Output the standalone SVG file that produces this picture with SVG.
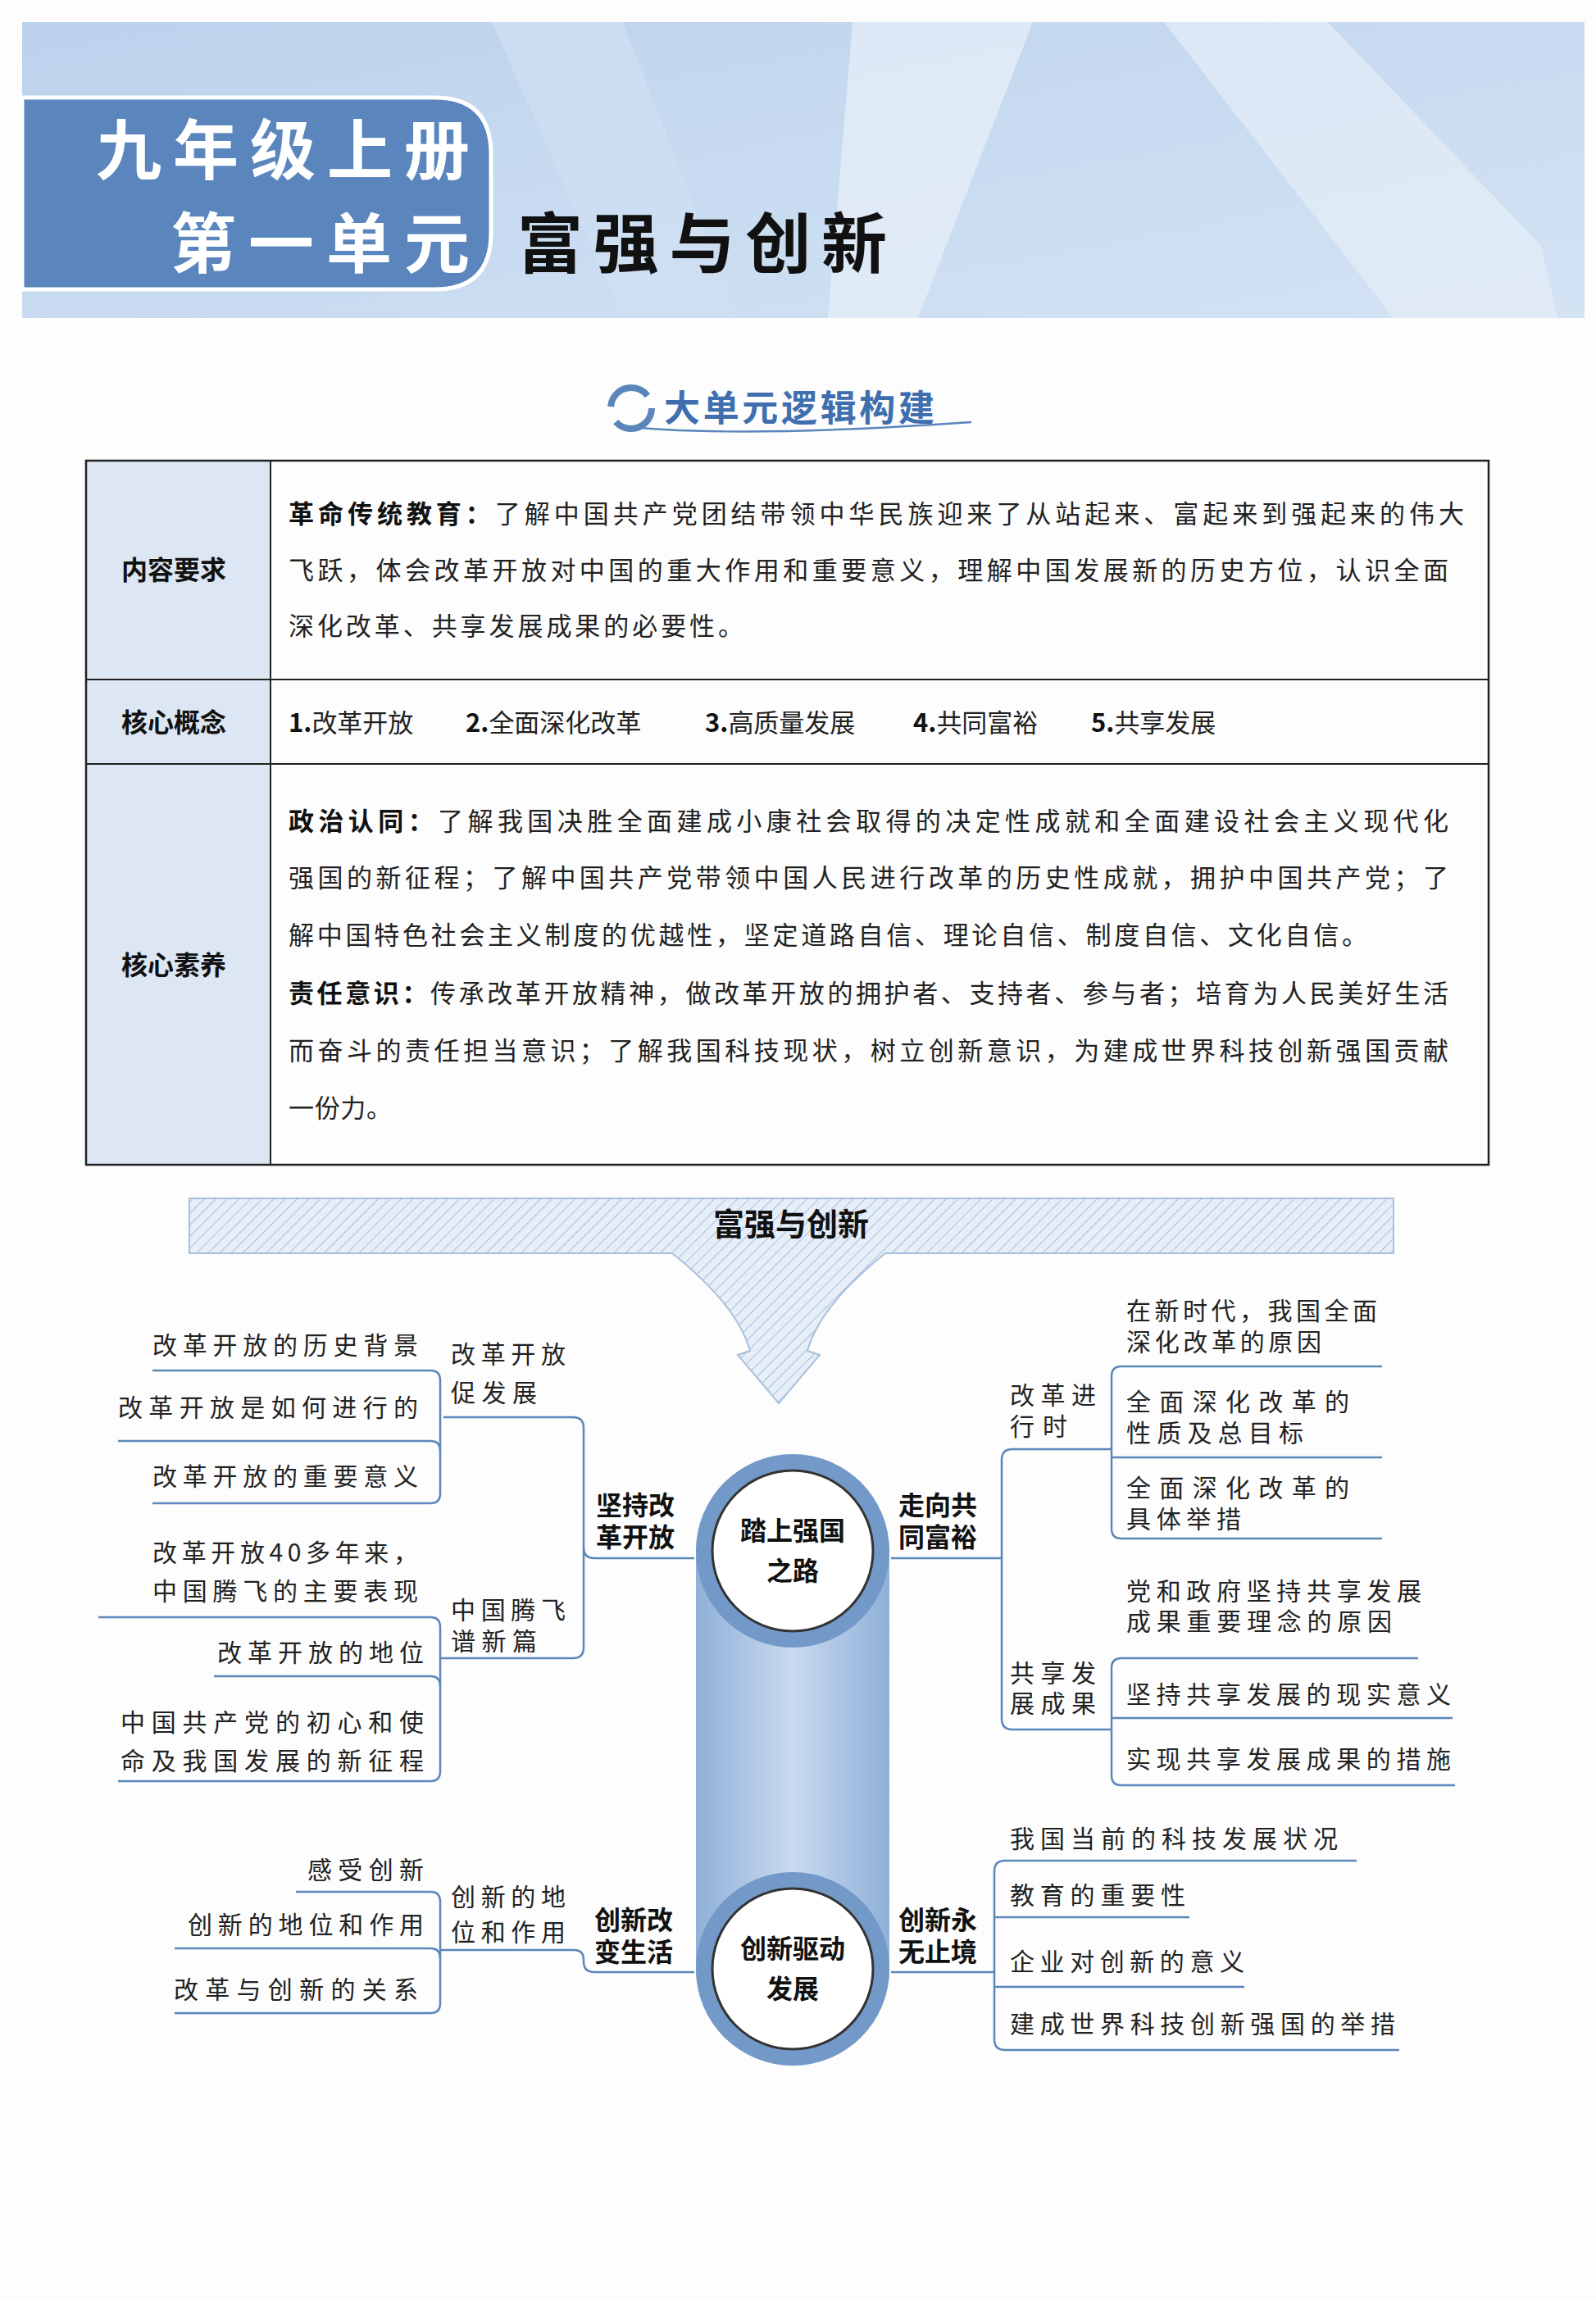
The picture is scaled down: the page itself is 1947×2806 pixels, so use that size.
<svg xmlns="http://www.w3.org/2000/svg" width="1947" height="2806" viewBox="0 0 1947 2806">
<defs>
<style>
.t{font-family:"Noto Sans CJK SC",sans-serif;fill:#222;}
.tb{font-family:"Noto Sans CJK SC",sans-serif;fill:#111;font-weight:bold;}
.ln{fill:none;stroke:#5b86bb;stroke-width:2.5;}
.lf{font-family:"Noto Sans CJK SC",sans-serif;fill:#222;font-size:30px;}
.br{font-family:"Noto Sans CJK SC",sans-serif;fill:#111;font-size:32px;font-weight:bold;}
</style>
<pattern id="hatch" width="10" height="10" patternUnits="userSpaceOnUse" patternTransform="rotate(45)">
<rect width="10" height="10" fill="#e6eef8"/><line x1="0" y1="0" x2="0" y2="10" stroke="#a9c0dd" stroke-width="2"/>
</pattern>
<linearGradient id="cap" x1="0" x2="1" y1="0" y2="0">
<stop offset="0" stop-color="#8fb0d8"/><stop offset="0.5" stop-color="#c9daef"/><stop offset="1" stop-color="#8fb0d8"/>
</linearGradient>
<linearGradient id="hdr" x1="0" x2="1" y1="0" y2="1">
<stop offset="0" stop-color="#bcd2ec"/><stop offset="1" stop-color="#d4e3f4"/>
</linearGradient>
</defs>
<rect width="1947" height="2806" fill="#fdfdfd"/>
<g id="header">
<rect x="27" y="27" width="1906" height="361" fill="url(#hdr)"/>
<polygon points="1040,27 1260,27 1120,388 1010,388" fill="#e3edf8" opacity="0.8"/>
<polygon points="1420,27 1620,27 1880,300 1900,388 1700,388" fill="#e5eef8" opacity="0.7"/>
<polygon points="600,27 760,27 900,388 760,388" fill="#d0e0f2" opacity="0.7"/>
<path d="M27,119 H530 Q599,119 599,188 V284 Q599,353 530,353 H27 Z" fill="#5a86bd" stroke="#fff" stroke-width="5"/>
<text class="tb" x="117" y="212" font-size="80" style="fill:#fff" textLength="456" lengthAdjust="spacing">九年级上册</text>
<text class="tb" x="208" y="326" font-size="80" style="fill:#fff" textLength="365" lengthAdjust="spacing">第一单元</text>
<text class="tb" x="631" y="326" font-size="80" textLength="451" lengthAdjust="spacing">富强与创新</text>
</g>
<g id="badge">
<path d="M760,520 Q900,535 1185,515" class="ln" stroke-width="4"/>
<circle cx="770" cy="498" r="25" fill="none" stroke="#5b86bb" stroke-width="8" stroke-dasharray="60 20"/>
<text class="tb" x="810" y="514" font-size="44" style="fill:#3f6fae" textLength="330" lengthAdjust="spacing">大单元逻辑构建</text>
</g>
<g id="table">
<rect x="105" y="562" width="225" height="859" fill="#dde7f3"/>
<rect x="105" y="562" width="1711" height="859" fill="none" stroke="#222" stroke-width="2.5"/>
<line x1="330" y1="562" x2="330" y2="1421" stroke="#222" stroke-width="2"/>
<line x1="105" y1="829" x2="1816" y2="829" stroke="#222" stroke-width="2"/>
<line x1="105" y1="932" x2="1816" y2="932" stroke="#222" stroke-width="2"/>
<text class="tb" x="148" y="707" font-size="32">内容要求</text>
<text class="tb" x="148" y="893" font-size="32">核心概念</text>
<text class="tb" x="148" y="1189" font-size="32">核心素养</text>
<text class="t" x="352" y="638" font-size="31" textLength="1434" lengthAdjust="spacing"><tspan class="tb">革命传统教育：</tspan>了解中国共产党团结带领中华民族迎来了从站起来、富起来到强起来的伟大</text>
<text class="t" x="352" y="707" font-size="31" textLength="1415" lengthAdjust="spacing">飞跃，体会改革开放对中国的重大作用和重要意义，理解中国发展新的历史方位，认识全面</text>
<text class="t" x="352" y="775" font-size="31" textLength="555" lengthAdjust="spacing">深化改革、共享发展成果的必要性。</text>
<text class="t" x="352" y="893" font-size="31"><tspan class="tb">1.</tspan>改革开放</text>
<text class="t" x="568" y="893" font-size="31"><tspan class="tb">2.</tspan>全面深化改革</text>
<text class="t" x="860" y="893" font-size="31"><tspan class="tb">3.</tspan>高质量发展</text>
<text class="t" x="1114" y="893" font-size="31"><tspan class="tb">4.</tspan>共同富裕</text>
<text class="t" x="1331" y="893" font-size="31"><tspan class="tb">5.</tspan>共享发展</text>
<text class="t" x="352" y="1013" font-size="31" textLength="1415" lengthAdjust="spacing"><tspan class="tb">政治认同：</tspan>了解我国决胜全面建成小康社会取得的决定性成就和全面建设社会主义现代化</text>
<text class="t" x="352" y="1082" font-size="31" textLength="1415" lengthAdjust="spacing">强国的新征程；了解中国共产党带领中国人民进行改革的历史性成就，拥护中国共产党；了</text>
<text class="t" x="352" y="1152" font-size="31" textLength="1316" lengthAdjust="spacing">解中国特色社会主义制度的优越性，坚定道路自信、理论自信、制度自信、文化自信。</text>
<text class="t" x="352" y="1223" font-size="31" textLength="1415" lengthAdjust="spacing"><tspan class="tb">责任意识：</tspan>传承改革开放精神，做改革开放的拥护者、支持者、参与者；培育为人民美好生活</text>
<text class="t" x="352" y="1293" font-size="31" textLength="1415" lengthAdjust="spacing">而奋斗的责任担当意识；了解我国科技现状，树立创新意识，为建成世界科技创新强国贡献</text>
<text class="t" x="352" y="1363" font-size="31" textLength="126" lengthAdjust="spacing">一份力。</text>
</g>
<g id="title-banner">
<path d="M231,1462 H1700 V1529 H1080 Q1000,1593 985,1648 L1000,1653 L950,1712 L900,1653 L915,1648 Q900,1593 820,1529 H231 Z" fill="url(#hatch)" stroke="#a9c0dd" stroke-width="2"/>
<text class="tb" x="965" y="1507" font-size="38" text-anchor="middle">富强与创新</text>
</g>
<g transform="translate(0,-14)">
<g id="spine">
<rect x="849" y="1790" width="236" height="744" rx="118" fill="url(#cap)"/>
</g>
<g id="connectors">
<path class="ln" d="M847,1915 H725 Q712,1915 712,1902 V1756 Q712,1743 699,1743 H541"/>
<path class="ln" d="M712,1902 V2024 Q712,2037 699,2037 H537"/>
<path class="ln" d="M186,1686 H525 Q537,1686 537,1698 V1836 Q537,1848 525,1848 H186"/>
<path class="ln" d="M144,1772 H525 Q537,1772 537,1784"/>
<path class="ln" d="M120,1987 H525 Q537,1987 537,1999 V2175 Q537,2187 525,2187 H144"/>
<path class="ln" d="M261,2059 H525 Q537,2059 537,2071"/>
<path class="ln" d="M1087,1915 H1222 M1222,1928 V1795 Q1222,1782 1235,1782 H1356 M1222,1902 V2111 Q1222,2124 1235,2124 H1356"/>
<path class="ln" d="M1686,1681 H1368 Q1356,1681 1356,1693 V1879 Q1356,1891 1368,1891 H1686"/>
<path class="ln" d="M1356,1792 H1686"/>
<path class="ln" d="M1356,2049 Q1356,2037 1368,2037 H1730 M1356,2049 V2180 Q1356,2192 1368,2192 H1775"/>
<path class="ln" d="M1356,2110 H1772"/>
<path class="ln" d="M847,2420 H725 Q712,2420 712,2407 V2405 Q712,2393 700,2393 H537"/>
<path class="ln" d="M361,2322 H525 Q537,2322 537,2334 V2458 Q537,2470 525,2470 H213"/>
<path class="ln" d="M213,2391 H525 Q537,2391 537,2403"/>
<path class="ln" d="M1087,2420 H1213 M1655,2284 H1226 Q1213,2284 1213,2297 V2502 Q1213,2515 1226,2515 H1707"/>
<path class="ln" d="M1213,2353 H1451 M1213,2438 H1518"/>
</g>
<g id="hub-top">
<circle cx="967" cy="1906" r="118" fill="#7399c8"/>
<circle cx="967" cy="1906" r="98" fill="#fff" stroke="#333" stroke-width="3"/>
<text class="br" x="967" y="1893" text-anchor="middle" font-size="36">踏上强国</text>
<text class="br" x="967" y="1942" text-anchor="middle" font-size="36">之路</text>
</g>
<g id="hub-bottom">
<circle cx="967" cy="2416" r="118" fill="#7399c8"/>
<circle cx="967" cy="2416" r="98" fill="#fff" stroke="#333" stroke-width="3"/>
<text class="br" x="967" y="2403" text-anchor="middle" font-size="36">创新驱动</text>
<text class="br" x="967" y="2452" text-anchor="middle" font-size="36">发展</text>
</g>
<g id="branch-left-top">
<text class="br" x="727" y="1862">坚持改</text><text class="br" x="727" y="1901">革开放</text>
<text class="lf" x="550" y="1677" textLength="140" lengthAdjust="spacing">改革开放</text><text class="lf" x="550" y="1724" textLength="105" lengthAdjust="spacing">促发展</text>
<text class="lf" x="550" y="1989" textLength="140" lengthAdjust="spacing">中国腾飞</text><text class="lf" x="550" y="2027" textLength="105" lengthAdjust="spacing">谱新篇</text>
<text class="lf" x="510" y="1666" text-anchor="end" textLength="324" lengthAdjust="spacing">改革开放的历史背景</text>
<text class="lf" x="510" y="1742" text-anchor="end" textLength="366" lengthAdjust="spacing">改革开放是如何进行的</text>
<text class="lf" x="510" y="1826" text-anchor="end" textLength="324" lengthAdjust="spacing">改革开放的重要意义</text>
<text class="lf" x="510" y="1919" text-anchor="end" textLength="324" lengthAdjust="spacing">改革开放40多年来，</text>
<text class="lf" x="510" y="1966" text-anchor="end" textLength="324" lengthAdjust="spacing">中国腾飞的主要表现</text>
<text class="lf" x="517" y="2041" text-anchor="end" textLength="252" lengthAdjust="spacing">改革开放的地位</text>
<text class="lf" x="517" y="2126" text-anchor="end" textLength="370" lengthAdjust="spacing">中国共产党的初心和使</text>
<text class="lf" x="517" y="2173" text-anchor="end" textLength="370" lengthAdjust="spacing">命及我国发展的新征程</text>
</g>
<g id="branch-right-top">
<text class="br" x="1096" y="1862">走向共</text><text class="br" x="1096" y="1901">同富裕</text>
<text class="lf" x="1232" y="1727" textLength="105" lengthAdjust="spacing">改革进</text><text class="lf" x="1232" y="1765" textLength="70" lengthAdjust="spacing">行时</text>
<text class="lf" x="1232" y="2066" textLength="105" lengthAdjust="spacing">共享发</text><text class="lf" x="1232" y="2103" textLength="105" lengthAdjust="spacing">展成果</text>
<text class="lf" x="1374" y="1624" textLength="306" lengthAdjust="spacing">在新时代，我国全面</text>
<text class="lf" x="1374" y="1662" textLength="238" lengthAdjust="spacing">深化改革的原因</text>
<text class="lf" x="1374" y="1735" textLength="272" lengthAdjust="spacing">全面深化改革的</text>
<text class="lf" x="1374" y="1773" textLength="216" lengthAdjust="spacing">性质及总目标</text>
<text class="lf" x="1374" y="1840" textLength="272" lengthAdjust="spacing">全面深化改革的</text>
<text class="lf" x="1374" y="1878" textLength="140" lengthAdjust="spacing">具体举措</text>
<text class="lf" x="1374" y="1966" textLength="360" lengthAdjust="spacing">党和政府坚持共享发展</text>
<text class="lf" x="1374" y="2003" textLength="324" lengthAdjust="spacing">成果重要理念的原因</text>
<text class="lf" x="1374" y="2092" textLength="396" lengthAdjust="spacing">坚持共享发展的现实意义</text>
<text class="lf" x="1374" y="2171" textLength="396" lengthAdjust="spacing">实现共享发展成果的措施</text>
</g>
<g id="branch-left-bottom">
<text class="br" x="725" y="2368">创新改</text><text class="br" x="725" y="2407">变生活</text>
<text class="lf" x="550" y="2339" textLength="140" lengthAdjust="spacing">创新的地</text><text class="lf" x="550" y="2382" textLength="140" lengthAdjust="spacing">位和作用</text>
<text class="lf" x="517" y="2306" text-anchor="end" textLength="142" lengthAdjust="spacing">感受创新</text>
<text class="lf" x="517" y="2373" text-anchor="end" textLength="288" lengthAdjust="spacing">创新的地位和作用</text>
<text class="lf" x="510" y="2452" text-anchor="end" textLength="298" lengthAdjust="spacing">改革与创新的关系</text>
</g>
<g id="branch-right-bottom">
<text class="br" x="1096" y="2368">创新永</text><text class="br" x="1096" y="2407">无止境</text>
<text class="lf" x="1232" y="2268" textLength="400" lengthAdjust="spacing">我国当前的科技发展状况</text>
<text class="lf" x="1232" y="2337" textLength="214" lengthAdjust="spacing">教育的重要性</text>
<text class="lf" x="1232" y="2418" textLength="286" lengthAdjust="spacing">企业对创新的意义</text>
<text class="lf" x="1232" y="2494" textLength="470" lengthAdjust="spacing">建成世界科技创新强国的举措</text>
</g>
</g>
</svg>
